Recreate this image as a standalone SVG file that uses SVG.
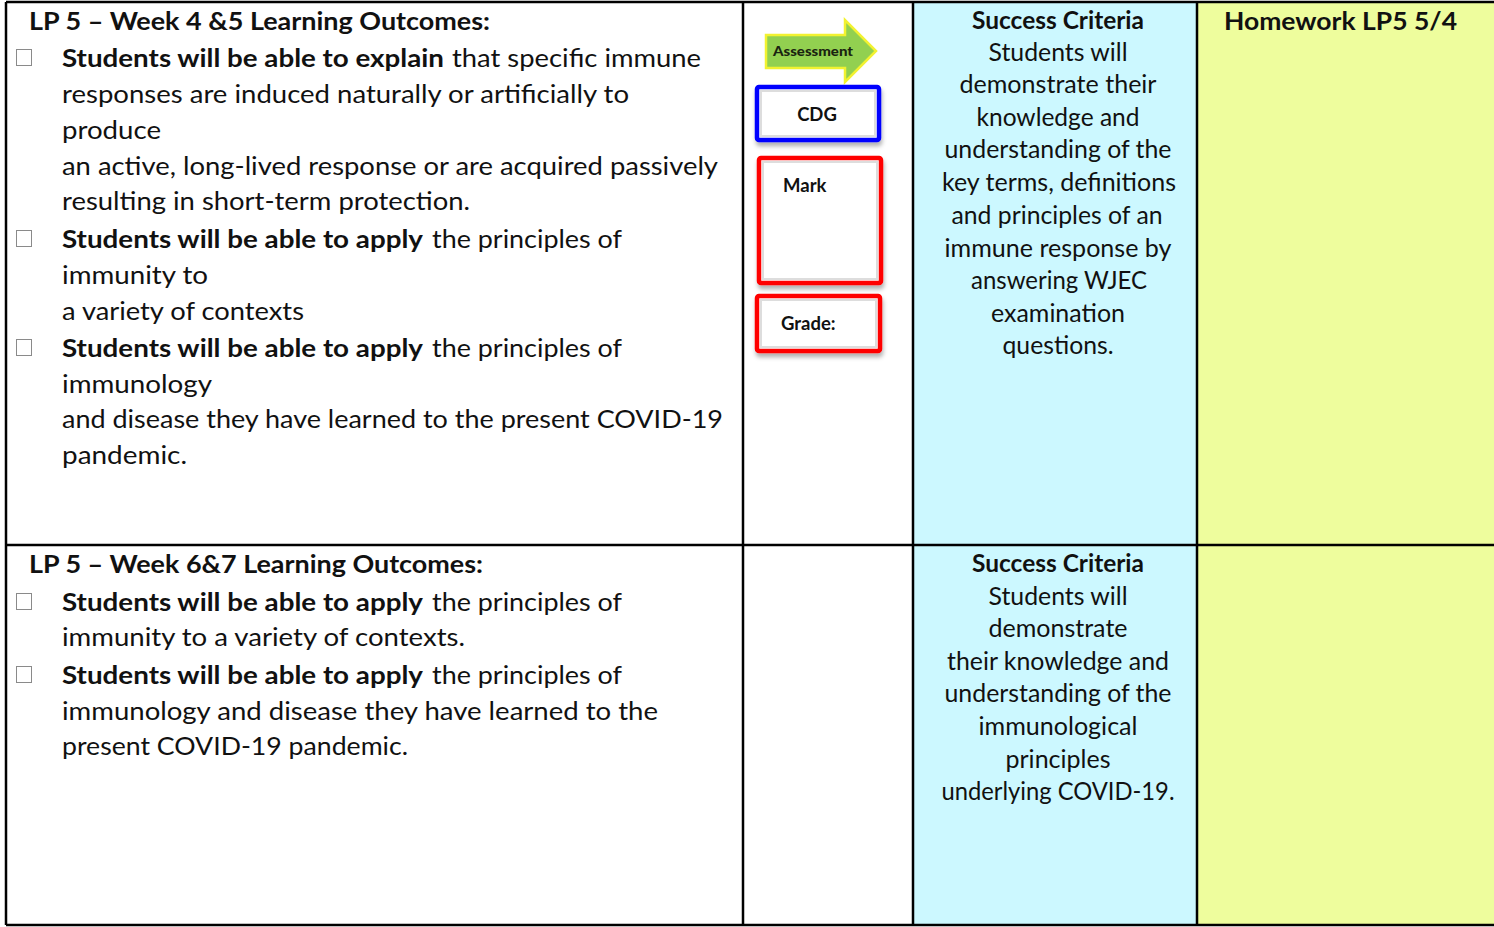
<svg xmlns="http://www.w3.org/2000/svg" width="1494" height="927" viewBox="0 0 1494 927">
<style>
text{font-family:Lato,"Open Sans","Liberation Sans",sans-serif;fill:#111;}
.t{font-size:25px;}
.b{font-size:25px;font-weight:bold;}
.c{font-size:25px;text-anchor:middle;}
.cb{font-size:25px;text-anchor:middle;font-weight:bold;}
.chk{fill:#fff;stroke:#8a8a8a;stroke-width:1;}
.grid{stroke:#000;stroke-width:2.5;fill:none;}
.box{font-size:18.5px;font-weight:bold;}
</style>
<defs>
<filter id="sh" x="-10%" y="-10%" width="130%" height="140%">
<feDropShadow dx="1" dy="4" stdDeviation="2" flood-color="#000" flood-opacity="0.3"/>
</filter>
</defs>
<rect x="0" y="0" width="1494" height="927" fill="#fff"/>
<g id="fills">
<rect x="913" y="2" width="284" height="923" fill="#CCF8FF"/>
<rect x="1197" y="2" width="297" height="923" fill="#EEFD9D"/>
</g>
<g id="grid">
<line class="grid" x1="6" y1="2" x2="1494" y2="2"/>
<line class="grid" x1="6" y1="545" x2="1494" y2="545"/>
<line class="grid" x1="6" y1="925" x2="1494" y2="925"/>
<line class="grid" x1="6" y1="2" x2="6" y2="925"/>
<line class="grid" x1="743" y1="2" x2="743" y2="925"/>
<line class="grid" x1="913" y1="2" x2="913" y2="925"/>
<line class="grid" x1="1197" y1="2" x2="1197" y2="925"/>
</g>
<g id="outcomes-1">
<text class="b" x="29" y="30" textLength="461" lengthAdjust="spacingAndGlyphs">LP 5 – Week 4 &amp;5 Learning Outcomes:</text>
<rect class="chk" x="16.5" y="49.5" width="15" height="16"/>
<text class="b" x="62" y="67" textLength="382" lengthAdjust="spacingAndGlyphs">Students will be able to explain</text>
<text class="t" x="452" y="67" textLength="249" lengthAdjust="spacingAndGlyphs">that specific immune</text>
<text class="t" x="62" y="103" textLength="567" lengthAdjust="spacingAndGlyphs">responses are induced naturally or artificially to</text>
<text class="t" x="62" y="139" textLength="99" lengthAdjust="spacingAndGlyphs">produce</text>
<text class="t" x="62" y="175" textLength="656" lengthAdjust="spacingAndGlyphs">an active, long-lived response or are acquired passively</text>
<text class="t" x="62" y="210" textLength="408" lengthAdjust="spacingAndGlyphs">resulting in short-term protection.</text>
<rect class="chk" x="16.5" y="230.5" width="15" height="16"/>
<text class="b" x="62" y="248" textLength="361" lengthAdjust="spacingAndGlyphs">Students will be able to apply</text>
<text class="t" x="432" y="248" textLength="190" lengthAdjust="spacingAndGlyphs">the principles of</text>
<text class="t" x="62" y="284" textLength="146" lengthAdjust="spacingAndGlyphs">immunity to</text>
<text class="t" x="62" y="320" textLength="242" lengthAdjust="spacingAndGlyphs">a variety of contexts</text>
<rect class="chk" x="16.5" y="339.5" width="15" height="16"/>
<text class="b" x="62" y="357" textLength="361" lengthAdjust="spacingAndGlyphs">Students will be able to apply</text>
<text class="t" x="432" y="357" textLength="190" lengthAdjust="spacingAndGlyphs">the principles of</text>
<text class="t" x="62" y="393" textLength="150" lengthAdjust="spacingAndGlyphs">immunology</text>
<text class="t" x="62" y="428" textLength="661" lengthAdjust="spacingAndGlyphs">and disease they have learned to the present COVID-19</text>
<text class="t" x="62" y="464" textLength="125" lengthAdjust="spacingAndGlyphs">pandemic.</text>
</g>
<g id="outcomes-2">
<text class="b" x="29" y="573" textLength="454" lengthAdjust="spacingAndGlyphs">LP 5 – Week 6&amp;7 Learning Outcomes:</text>
<rect class="chk" x="16.5" y="593.5" width="15" height="16"/>
<text class="b" x="62" y="611" textLength="361" lengthAdjust="spacingAndGlyphs">Students will be able to apply</text>
<text class="t" x="432" y="611" textLength="190" lengthAdjust="spacingAndGlyphs">the principles of</text>
<text class="t" x="62" y="646" textLength="403" lengthAdjust="spacingAndGlyphs">immunity to a variety of contexts.</text>
<rect class="chk" x="16.5" y="666.5" width="15" height="16"/>
<text class="b" x="62" y="684" textLength="361" lengthAdjust="spacingAndGlyphs">Students will be able to apply</text>
<text class="t" x="432" y="684" textLength="190" lengthAdjust="spacingAndGlyphs">the principles of</text>
<text class="t" x="62" y="720" textLength="596" lengthAdjust="spacingAndGlyphs">immunology and disease they have learned to the</text>
<text class="t" x="62" y="755" textLength="346" lengthAdjust="spacingAndGlyphs">present COVID-19 pandemic.</text>
</g>
<g id="assessment-arrow">
<path d="M766,35 L845,35 L845,20 L876,51 L845,82 L845,68 L766,68 Z" fill="#92D050" stroke="#F2F230" stroke-width="2.5" stroke-linejoin="miter"/>
<text x="813" y="56" style="font-size:13.5px;font-weight:900;fill:#1a2410;text-anchor:middle;" textLength="80" lengthAdjust="spacingAndGlyphs">Assessment</text>
</g>
<g id="cdg-box">
<rect x="757" y="87" width="122" height="53" rx="2" fill="#fff" stroke="#0000FF" stroke-width="4.5" filter="url(#sh)"/>
<rect x="761" y="91" width="114" height="45" fill="none" stroke="#ddd" stroke-width="2"/>
<text class="box" x="817" y="121" text-anchor="middle">CDG</text>
</g>
<g id="mark-box">
<rect x="759" y="158" width="122" height="125" rx="2" fill="#fff" stroke="#FF0000" stroke-width="4.5" filter="url(#sh)"/>
<rect x="763" y="162" width="114" height="117" fill="none" stroke="#ddd" stroke-width="2"/>
<text class="box" x="783" y="192">Mark</text>
</g>
<g id="grade-box">
<rect x="757" y="296" width="123" height="55" rx="2" fill="#fff" stroke="#FF0000" stroke-width="4.5" filter="url(#sh)"/>
<rect x="761" y="300" width="115" height="47" fill="none" stroke="#ddd" stroke-width="2"/>
<text class="box" x="781" y="330">Grade:</text>
</g>
<g id="success-1">
<text class="cb" x="1058" y="29" textLength="172" lengthAdjust="spacingAndGlyphs">Success Criteria</text>
<text class="c" x="1058" y="61" textLength="139" lengthAdjust="spacingAndGlyphs">Students will</text>
<text class="c" x="1058" y="93" textLength="197" lengthAdjust="spacingAndGlyphs">demonstrate their</text>
<text class="c" x="1058" y="126" textLength="163" lengthAdjust="spacingAndGlyphs">knowledge and</text>
<text class="c" x="1058" y="158" textLength="227" lengthAdjust="spacingAndGlyphs">understanding of the</text>
<text class="c" x="1059" y="191" textLength="234" lengthAdjust="spacingAndGlyphs">key terms, definitions</text>
<text class="c" x="1057" y="224" textLength="211" lengthAdjust="spacingAndGlyphs">and principles of an</text>
<text class="c" x="1058" y="257" textLength="227" lengthAdjust="spacingAndGlyphs">immune response by</text>
<text class="c" x="1059" y="289" textLength="176" lengthAdjust="spacingAndGlyphs">answering WJEC</text>
<text class="c" x="1058" y="322" textLength="134" lengthAdjust="spacingAndGlyphs">examination</text>
<text class="c" x="1058" y="354" textLength="111" lengthAdjust="spacingAndGlyphs">questions.</text>
</g>
<g id="success-2">
<text class="cb" x="1058" y="572" textLength="172" lengthAdjust="spacingAndGlyphs">Success Criteria</text>
<text class="c" x="1058" y="605" textLength="139" lengthAdjust="spacingAndGlyphs">Students will</text>
<text class="c" x="1058" y="637" textLength="139" lengthAdjust="spacingAndGlyphs">demonstrate</text>
<text class="c" x="1058" y="670" textLength="222" lengthAdjust="spacingAndGlyphs">their knowledge and</text>
<text class="c" x="1058" y="702" textLength="227" lengthAdjust="spacingAndGlyphs">understanding of the</text>
<text class="c" x="1058" y="735" textLength="159" lengthAdjust="spacingAndGlyphs">immunological</text>
<text class="c" x="1058" y="768" textLength="105" lengthAdjust="spacingAndGlyphs">principles</text>
<text class="c" x="1058" y="800" textLength="233" lengthAdjust="spacingAndGlyphs">underlying COVID-19.</text>
</g>
<g id="homework">
<text class="b" x="1224" y="30" textLength="233" lengthAdjust="spacingAndGlyphs">Homework LP5 5/4</text>
</g>
</svg>
